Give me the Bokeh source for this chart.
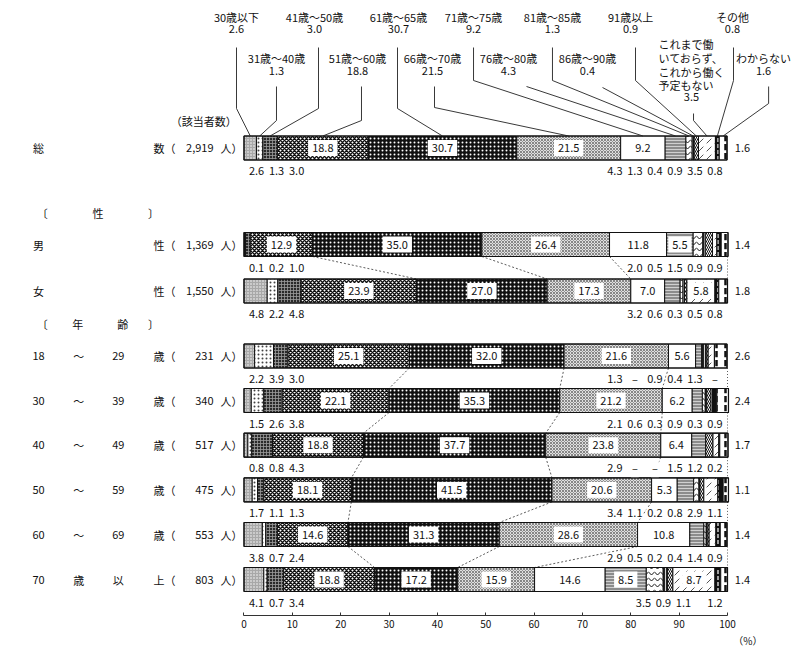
import numpy as np
from bokeh.plotting import figure
from bokeh.models import Range1d, FixedTicker, ColumnDataSource, Title
from bokeh.core.properties import value
from bokeh.embed import file_html
from bokeh.resources import INLINE

# ---------------- data ----------------
categories = ["30歳以下", "31歳～40歳", "41歳～50歳", "51歳～60歳", "61歳～65歳",
              "66歳～70歳", "71歳～75歳", "76歳～80歳", "81歳～85歳", "86歳～90歳",
              "91歳以上", "これまで働いておらず、これから働く予定もない", "その他", "わからない"]

group_parts = [("総", "", "", "数（"), ("男", "", "", "性（"), ("女", "", "", "性（"),
               ("18", "～", "29", "歳（"), ("30", "～", "39", "歳（"), ("40", "～", "49", "歳（"),
               ("50", "～", "59", "歳（"), ("60", "～", "69", "歳（"), ("70", "歳", "以", "上（")]
group_counts = ["2,919", "1,369", "1,550", "231", "340", "517", "475", "553", "803"]

v_total = [2.6, 1.3, 3.0, 18.8, 30.7, 21.5, 9.2, 4.3, 1.3, 0.4, 0.9, 3.5, 0.8, 1.6]
v_male = [0.1, 0.2, 1.0, 12.9, 35.0, 26.4, 11.8, 5.5, 2.0, 0.5, 1.5, 0.9, 0.9, 1.4]
v_female = [4.8, 2.2, 4.8, 23.9, 27.0, 17.3, 7.0, 3.2, 0.6, 0.3, 0.5, 5.8, 0.8, 1.8]
v_18_29 = [2.2, 3.9, 3.0, 25.1, 32.0, 21.6, 5.6, 1.3, 0.0, 0.9, 0.4, 1.3, 0.0, 2.6]
v_30_39 = [1.5, 2.6, 3.8, 22.1, 35.3, 21.2, 6.2, 2.1, 0.6, 0.3, 0.9, 0.3, 0.9, 2.4]
v_40_49 = [0.8, 0.8, 4.3, 18.8, 37.7, 23.8, 6.4, 2.9, 0.0, 0.0, 1.5, 1.2, 0.2, 1.7]
v_50_59 = [1.7, 1.1, 1.3, 18.1, 41.5, 20.6, 5.3, 3.4, 1.1, 0.2, 0.8, 2.9, 1.1, 1.1]
v_60_69 = [3.8, 0.7, 2.4, 14.6, 31.3, 28.6, 10.8, 2.9, 0.5, 0.2, 0.4, 1.4, 0.9, 1.4]
v_70_up = [4.1, 0.7, 3.4, 18.8, 17.2, 15.9, 14.6, 8.5, 3.5, 0.9, 1.1, 8.7, 1.2, 1.4]

rows_vals = [v_total, v_male, v_female, v_18_29, v_30_39, v_40_49, v_50_59, v_60_69, v_70_up]

# ---------------- layout / style ----------------
FONT = value("Noto Sans CJK JP")
FS = "11px"
TXT = "#111111"
row_y = [147.5, 244, 290.5, 355.5, 400, 444.7, 489.4, 534, 579]   # screen-like y (flipped range)
BAR_H = 24

styles = [  # fill, hatch, hatch colour, scale, weight
    ("#a8a8a8", ".", "white", 3, 1.0),
    ("white", ".", "#444444", 4, 1.0),
    ("#2a2a2a", "+", "#9a9a9a", 3, 0.8),
    ("white", "x", "#111111", 4, 1.5),
    ("#111111", ".", "white", 4, 1.0),
    ("#e0e0e0", "x", "#6e6e6e", 3, 0.8),
    ("white", " ", "white", 1, 1.0),
    ("#8c8c8c", "-", "#d0d0d0", 3, 1.0),
    ("white", "v", "#111111", 6, 1.0),
    ("#222222", "|", "white", 3, 0.8),
    ("white", "\\", "#111111", 4, 1.0),
    ("white", ",", "#555555", 8, 1.0),
    ("#111111", ":", "white", 6, 1.2),
    ("white", ":", "#111111", 9, 2.5),
]

p = figure(frame_width=792, frame_height=615, min_border=0,
           x_range=Range1d(-50.36, 113.44), y_range=Range1d(615, 0),
           y_axis_location=None, x_axis_location="below",
           toolbar_location=None, output_backend="svg", tools="")
p.grid.visible = False
p.outline_line_color = None
p.background_fill_color = "white"

ax = p.xaxis[0]
ax.ticker = FixedTicker(ticks=list(range(0, 101, 10)))
ax.bounds = (0, 100)
ax.major_tick_in = 3
ax.major_tick_out = 0
ax.minor_tick_in = 0
ax.minor_tick_out = 0
ax.axis_line_color = "#333333"
ax.major_tick_line_color = "#333333"
ax.major_label_text_font = "Noto Sans CJK JP"
ax.major_label_text_font_size = "10px"
ax.major_label_text_color = TXT
ax.major_label_standoff = 4

pct = Title(text="（%）", align="right", offset=30, standoff=0,
            text_font="Noto Sans CJK JP", text_font_size="10px",
            text_font_style="normal", text_color=TXT)
p.add_layout(pct, "below")

cums = [np.concatenate([[0.0], np.cumsum(v)]) for v in rows_vals]

# ---- dashed connectors between consecutive bars ----
pairs = [(1, 2), (3, 4), (4, 5), (5, 6), (6, 7), (7, 8)]
cxs, cys = [], []
for a, b in pairs:
    for k in (4, 5, 6):
        cxs.append([cums[a][k], cums[b][k]])
        cys.append([row_y[a] + BAR_H / 2, row_y[b] - BAR_H / 2])
p.multi_line(cxs, cys, line_color="#333333", line_width=0.8, line_dash="2 2")
vxs = [[100, 100] for _ in pairs]
vys = [[row_y[a] + BAR_H / 2, row_y[b] - BAR_H / 2] for a, b in pairs]
p.multi_line(vxs, vys, line_color="#333333", line_width=0.8, line_dash="1 2")

# ---- bars ----
d = dict(left=[], right=[], y=[], fill=[], hp=[], hc=[], hs=[], hw=[])
for r, vals in enumerate(rows_vals):
    cum = cums[r]
    for i, v in enumerate(vals):
        f, hp_, hc_, hs_, hw_ = styles[i]
        d["left"].append(cum[i]); d["right"].append(cum[i + 1]); d["y"].append(row_y[r])
        d["fill"].append(f); d["hp"].append(hp_); d["hc"].append(hc_)
        d["hs"].append(hs_); d["hw"].append(hw_)
src = ColumnDataSource(d)
p.hbar(y="y", left="left", right="right", height=BAR_H, source=src,
       fill_color="fill", hatch_pattern="hp", hatch_color="hc", hatch_scale="hs",
       hatch_weight="hw", line_color="#111111", line_width=1)
p.hbar(y=row_y, left=[0] * len(rows_vals), right=[c[-1] for c in cums], height=BAR_H,
       fill_color=None, line_color="#111111", line_width=1.2)


# ---- value labels ----
def place(centers, lo, hi, gap):
    clusters = []
    for c in centers:
        clusters.append({"sum": c, "n": 1, "start": min(max(c, lo), hi)})
        while len(clusters) > 1:
            a, b = clusters[-2], clusters[-1]
            if a["start"] + a["n"] * gap > b["start"] + 1e-9:
                n = a["n"] + b["n"]
                s = a["sum"] + b["sum"]
                st = s / n - (n - 1) * gap / 2
                st = min(max(st, lo), hi - (n - 1) * gap)
                clusters[-2:] = [{"sum": s, "n": n, "start": st}]
            else:
                break
    out = []
    for cl in clusters:
        out += [cl["start"] + j * gap for j in range(cl["n"])]
    return out


def fmt(v):
    return "–" if v == 0 else f"{v:.1f}"


in_x, in_y, in_t = [], [], []
bl_x, bl_y, bl_t = [], [], []
rt_x, rt_y, rt_t = [], [], []
for r, vals in enumerate(rows_vals):
    cum = cums[r]
    below = []
    for i, v in enumerate(vals):
        c = (cum[i] + cum[i + 1]) / 2
        if i == 13:
            rt_x.append(103.1); rt_y.append(row_y[r]); rt_t.append(fmt(v))
        elif v >= 5:
            in_x.append(c); in_y.append(row_y[r]); in_t.append(fmt(v))
        else:
            below.append((c, fmt(v)))
    pos = place([b[0] for b in below], 2.6, 97.4, 4.14)
    for (c, t), xp in zip(below, pos):
        bl_x.append(xp); bl_y.append(row_y[r] + 23); bl_t.append(t)

p.text(in_x, in_y, text=in_t, text_font=FONT, text_font_size=FS, text_color=TXT,
       text_align="center", text_baseline="middle",
       background_fill_color="white", padding=4)
p.text(bl_x, bl_y, text=bl_t, text_font=FONT, text_font_size=FS, text_color=TXT,
       text_align="center", text_baseline="middle",
       background_fill_color="white", padding=1)
p.text(rt_x, rt_y, text=rt_t, text_font=FONT, text_font_size=FS, text_color=TXT,
       text_align="center", text_baseline="middle")

# ---- left-hand row labels ----
col_x = [-42.5, -34.2, -26.0]
lx, ly, lt = [], [], []
for r, parts in enumerate(group_parts):
    for j in range(3):
        if parts[j]:
            lx.append(col_x[j]); ly.append(row_y[r]); lt.append(parts[j])
p.text(lx, ly, text=lt, text_font=FONT, text_font_size=FS, text_color=TXT,
       text_align="center", text_baseline="middle")
p.text([-18.7] * 9, row_y, text=[g[3] for g in group_parts], text_font=FONT,
       text_font_size=FS, text_color=TXT, text_align="left", text_baseline="middle")
p.text([-6.3] * 9, row_y, text=group_counts, text_font=FONT, text_font_size=FS,
       text_color=TXT, text_align="right", text_baseline="middle")
p.text([-4.86] * 9, row_y, text=["人）"] * 9, text_font=FONT, text_font_size=FS,
       text_color=TXT, text_align="left", text_baseline="middle")

hdr_x = [-41.7, -30.2, -18.7, -41.7, -34.4, -25.1, -18.7]
hdr_y = [212, 212, 212, 323, 323, 323, 323]
hdr_t = ["〔", "性", "〕", "〔", "年", "齢", "〕"]
p.text(hdr_x, hdr_y, text=hdr_t, text_font=FONT, text_font_size=FS, text_color=TXT,
       text_align="center", text_baseline="middle")
p.text([-8.3], [120], text=["（該当者数）"], text_font=FONT, text_font_size=FS,
       text_color=TXT, text_align="center", text_baseline="middle")

# ---- top category labels with leader lines ----
top_row = [1, 2, 1, 2, 1, 2, 1, 2, 1, 2, 1, 0, 1, 2]
top_cx = [-1.55, 6.72, 14.58, 23.47, 31.95, 38.98, 47.47, 54.7, 63.8, 71.04, 79.94, 92.55, 101.03, 107.45]
lead_x = [-1.55, 6.72, 15.41, 24.30, 31.75, 39.40, 47.47, 58.43, 63.8, 74.15, 80.97, 92.97, 101.24, 108.5]
lead_start = [47, 86, 47, 86, 47, 86, 47, 86, 47, 87, 47, 113, 47, 86]
lead_elbow = [108, 120, 108, 120, 108, 107, 80, 86, 80, 87, 80, 120, 80, 103]
name_y = {1: 16, 2: 57}
val_y = {1: 28.5, 2: 70}

tcum = cums[0]
lxs, lys = [], []
nx, ny, nt, vx_, vy_, vt = [], [], [], [], [], []
for i, cat in enumerate(categories):
    tgt = (tcum[i] + tcum[i + 1]) / 2
    lxs.append([lead_x[i], lead_x[i], tgt])
    lys.append([lead_start[i], lead_elbow[i], row_y[0] - BAR_H / 2])
    if top_row[i] == 0:
        continue
    nx.append(top_cx[i]); ny.append(name_y[top_row[i]]); nt.append(cat)
    vx_.append(top_cx[i]); vy_.append(val_y[top_row[i]]); vt.append(fmt(v_total[i]))
p.multi_line(lxs, lys, line_color="#222222", line_width=0.9)
p.text(nx, ny, text=nt, text_font=FONT, text_font_size=FS, text_color=TXT,
       text_align="center", text_baseline="middle")
p.text(vx_, vy_, text=vt, text_font=FONT, text_font_size=FS, text_color=TXT,
       text_align="center", text_baseline="middle")
# multi-line special category (drawn line by line)
special = categories[11]
special_lines = [special[0:5], special[5:11], special[11:17], special[17:]]
p.text([85.73] * 4, [43, 57, 71, 84.5], text=special_lines, text_font=FONT,
       text_font_size=FS, text_color=TXT, text_align="left", text_baseline="middle")
p.text([92.55], [96], text=[fmt(v_total[11])], text_font=FONT, text_font_size=FS,
       text_color=TXT, text_align="center", text_baseline="middle")

open("out.html", "w").write(file_html(p, INLINE))
